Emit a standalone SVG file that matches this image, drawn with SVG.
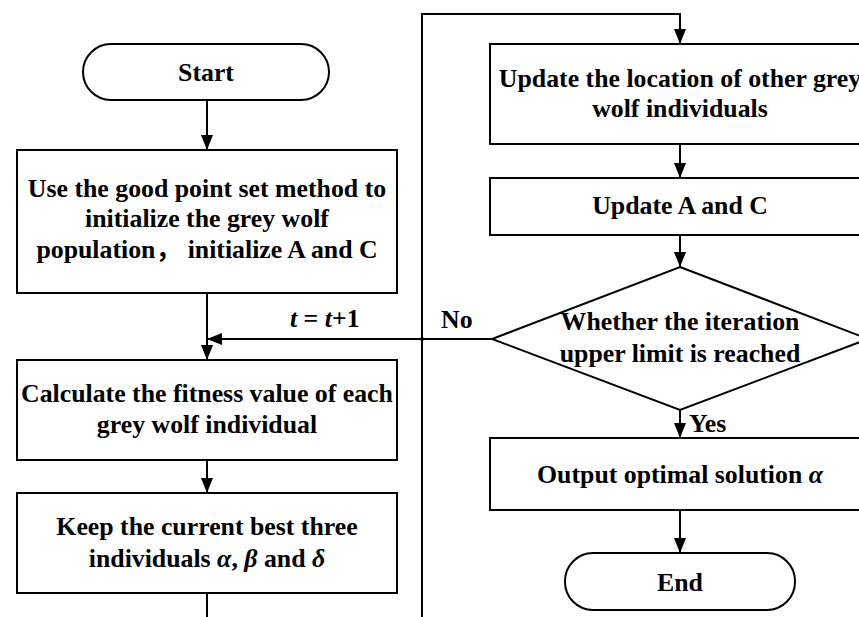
<svg xmlns="http://www.w3.org/2000/svg" width="859" height="617" viewBox="0 0 859 617">
<style>
.shape{fill:#fff;stroke:#000;stroke-width:2}
.t{font-family:'Liberation Serif','Times New Roman','Noto Sans CJK SC',serif;font-weight:bold;font-size:25.8px;fill:#000;text-anchor:middle}
.l{font-family:'Liberation Serif','Times New Roman','Noto Sans CJK SC',serif;font-weight:bold;font-size:25.8px;fill:#000}
.c{fill:none;stroke:#000;stroke-width:2}
.i{font-style:italic}
</style>
<defs>
<marker id="ah" markerUnits="userSpaceOnUse" markerWidth="16" markerHeight="12" viewBox="0 0 16 12" refX="15" refY="6" orient="auto">
<path d="M0,0 L15,6 L0,12 Z" fill="#000"/>
</marker>
</defs>
<rect width="859" height="617" fill="#fff"/>
<g id="connectors">
<line class="c" x1="207" y1="100" x2="207" y2="150" marker-end="url(#ah)"/>
<line class="c" x1="207" y1="293" x2="207" y2="360" marker-end="url(#ah)"/>
<line class="c" x1="207" y1="460" x2="207" y2="493" marker-end="url(#ah)"/>
<line class="c" x1="207" y1="593" x2="207" y2="617"/>
<path class="c" d="M422,617 V14 H680 V44" marker-end="url(#ah)"/>
<line class="c" x1="680" y1="144" x2="680" y2="178" marker-end="url(#ah)"/>
<line class="c" x1="680" y1="235" x2="680" y2="267" marker-end="url(#ah)"/>
<path class="c" d="M492,339 H207" marker-end="url(#ah)"/>
<circle cx="422" cy="339" r="2" fill="#000"/>
<line class="c" x1="680" y1="410" x2="680" y2="438" marker-end="url(#ah)"/>
<line class="c" x1="680" y1="510" x2="680" y2="553" marker-end="url(#ah)"/>
<text class="l" x="290" y="327"><tspan class="i">t</tspan> = <tspan class="i">t</tspan>+1</text>
<text class="l" x="441" y="328">No</text>
<text class="l" x="689" y="432">Yes</text>
</g>
<g id="start">
<rect class="shape" x="83" y="44" width="246" height="56" rx="28" ry="28"/>
<text class="t" x="206" y="81">Start</text>
</g>
<g id="init">
<rect class="shape" x="17" y="150" width="380" height="143"/>
<text class="t" x="207" y="197">Use the good point set method to</text>
<text class="t" x="207" y="227">initialize the grey wolf</text>
<text class="t" x="207" y="258">population，  initialize A and C</text>
</g>
<g id="fitness">
<rect class="shape" x="17" y="360" width="380" height="100"/>
<text class="t" x="207" y="402">Calculate the fitness value of each</text>
<text class="t" x="207" y="433">grey wolf individual</text>
</g>
<g id="keep">
<rect class="shape" x="17" y="493" width="380" height="100"/>
<text class="t" x="207" y="535">Keep the current best three</text>
<text class="t" x="207" y="567">individuals <tspan class="i">α</tspan>, <tspan class="i">β</tspan> and <tspan class="i">δ</tspan></text>
</g>
<g id="update-loc">
<rect class="shape" x="490" y="44" width="380" height="100"/>
<text class="t" x="680" y="87">Update the location of other grey</text>
<text class="t" x="680" y="117">wolf individuals</text>
</g>
<g id="update-ac">
<rect class="shape" x="490" y="178" width="380" height="57"/>
<text class="t" x="680" y="214">Update A and C</text>
</g>
<g id="decision">
<polygon class="shape" points="680,267 868,339 680,410 492,339"/>
<text class="t" x="680" y="330">Whether the iteration</text>
<text class="t" x="680" y="362">upper limit is reached</text>
</g>
<g id="output">
<rect class="shape" x="490" y="438" width="380" height="72"/>
<text class="t" x="680" y="483">Output optimal solution <tspan class="i">α</tspan></text>
</g>
<g id="end">
<rect class="shape" x="565" y="553" width="230" height="57" rx="28" ry="28"/>
<text class="t" x="680" y="591">End</text>
</g>
</svg>
